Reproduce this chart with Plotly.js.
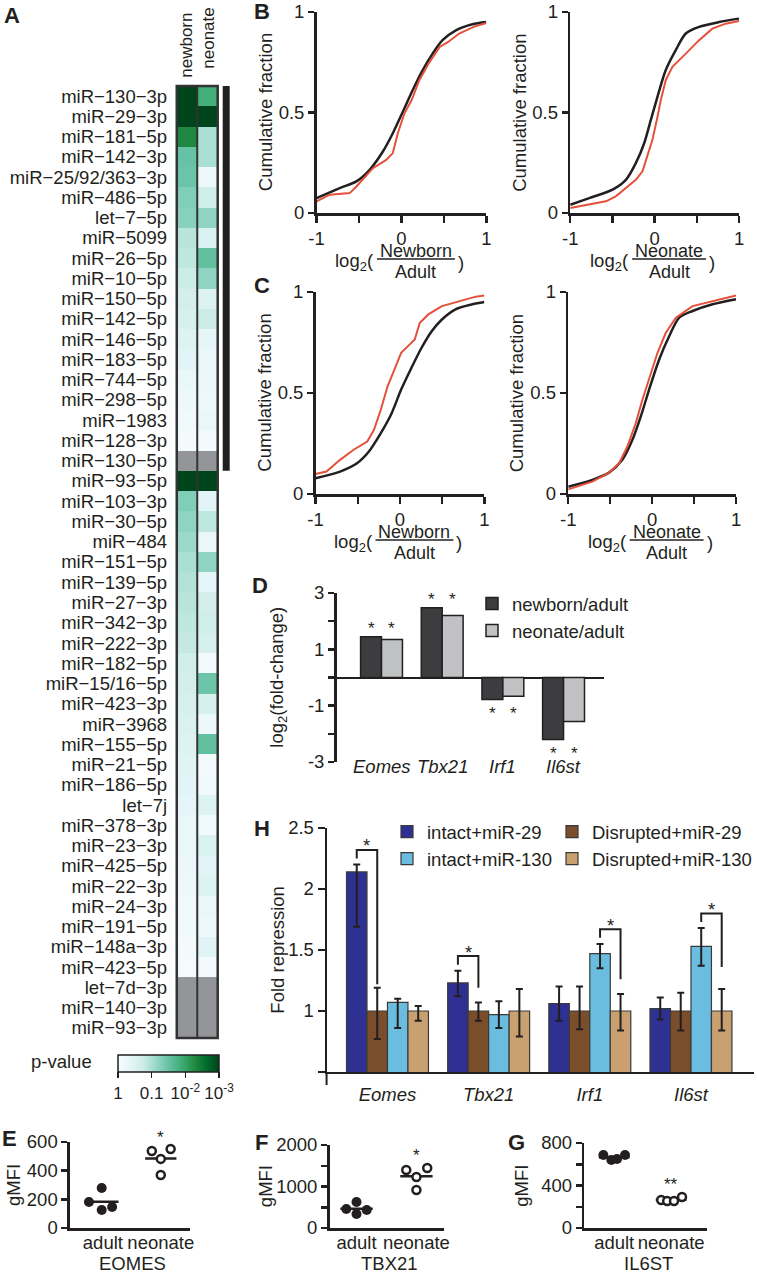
<!DOCTYPE html>
<html><head><meta charset="utf-8">
<script src="https://cdn.plot.ly/plotly-3.0.1.min.js"></script>
<style>html,body{margin:0;padding:0;background:#fff}#chart{width:757px;height:1273px}</style>
</head><body><div id="chart"></div>
<script>
// ---------------- DATA ----------------
// Panel A: heatmap of -log10(p) (null = not tested, drawn grey)
const mirnaLabels = ['miR−130−3p','miR−29−3p','miR−181−5p','miR−142−3p','miR−25/92/363−3p','miR−486−5p','let−7−5p','miR−5099','miR−26−5p','miR−10−5p','miR−150−5p','miR−142−5p','miR−146−5p','miR−183−5p','miR−744−5p','miR−298−5p','miR−1983','miR−128−3p','miR−130−5p','miR−93−5p','miR−103−3p','miR−30−5p','miR−484','miR−151−5p','miR−139−5p','miR−27−3p','miR−342−3p','miR−222−3p','miR−182−5p','miR−15/16−5p','miR−423−3p','miR−3968','miR−155−5p','miR−21−5p','miR−186−5p','let−7j','miR−378−3p','miR−23−3p','miR−425−5p','miR−22−3p','miR−24−3p','miR−191−5p','miR−148a−3p','miR−423−5p','let−7d−3p','miR−140−3p','miR−93−3p'];
const heatColumns = ['newborn','neonate'];
const newbornNegLog10P = [3,3,2.3,1.5,1.45,1.3,1.25,0.9,0.85,0.75,0.65,0.6,0.5,0.4,0.3,0.2,0.15,0.1,null,3,1.3,1.2,1.1,1.0,0.95,0.9,0.85,0.8,0.7,0.65,0.6,0.55,0.5,0.45,0.4,0.35,0.3,0.28,0.25,0.2,0.17,0.14,0.1,0.05,null,null,null];
const neonateNegLog10P = [1.85,3,1.0,1.0,0.2,0.7,1.2,0.55,1.55,1.2,0.5,0.75,0.35,0.3,0.25,0.2,0.3,0.1,null,3,0.4,0.85,0.3,1.2,0.35,0.65,0.7,0.6,0.1,1.45,0.6,0.2,1.55,0.1,0.15,0.5,0.15,0.55,0.4,0.5,0.3,0.2,0.45,0.1,null,null,null];
const pTickVals = [0,1,2,3];
const pTickText = ['1','0.1','10<sup>-2</sup>','10<sup>-3</sup>'];
const bracketRows = 19; // miRNAs marked by the black bar

// Panels B/C: cumulative fraction curves (black = all, red = targets)
const bNewbornAllX = [-1,-0.727,-0.531,-0.375,-0.219,-0.102,0.016,0.133,0.25,0.367,0.484,0.641,0.836,1.0];
const bNewbornAllY = [0.074,0.124,0.157,0.215,0.306,0.397,0.504,0.612,0.711,0.793,0.860,0.909,0.939,0.950];
const bNewbornTgtX = [-1,-0.844,-0.609,-0.531,-0.336,-0.180,-0.102,-0.043,0.035,0.12,0.21,0.32,0.45,0.55,0.68,0.85,1.0];
const bNewbornTgtY = [0.058,0.091,0.099,0.132,0.223,0.264,0.298,0.397,0.496,0.562,0.661,0.744,0.826,0.851,0.893,0.926,0.945];
const bNeonateAllX = [-1,-0.775,-0.499,-0.341,-0.223,-0.124,-0.045,0.034,0.132,0.250,0.369,0.527,0.763,1];
const bNeonateAllY = [0.041,0.074,0.116,0.165,0.248,0.347,0.463,0.579,0.711,0.810,0.893,0.926,0.950,0.967];
const bNeonateTgtX = [-1,-0.736,-0.578,-0.460,-0.341,-0.223,-0.144,-0.085,-0.026,0.034,0.073,0.132,0.211,0.369,0.527,0.684,0.842,1];
const bNeonateTgtY = [0.025,0.046,0.058,0.083,0.124,0.165,0.207,0.281,0.364,0.479,0.562,0.661,0.727,0.793,0.860,0.917,0.942,0.955];
const cNewbornAllX = [-1,-0.710,-0.509,-0.368,-0.227,-0.107,0.014,0.135,0.256,0.376,0.497,0.658,0.859,1];
const cNewbornAllY = [0.078,0.111,0.152,0.210,0.301,0.392,0.517,0.624,0.724,0.806,0.864,0.914,0.939,0.950];
const cNewbornTgtX = [-1,-0.871,-0.710,-0.549,-0.388,-0.308,-0.227,-0.147,-0.066,0.014,0.095,0.175,0.235,0.336,0.497,0.698,0.899,1];
const cNewbornTgtY = [0.099,0.111,0.169,0.219,0.260,0.318,0.417,0.533,0.616,0.699,0.732,0.765,0.848,0.889,0.930,0.955,0.977,0.983];
const cNeonateAllX = [-1,-0.713,-0.514,-0.355,-0.235,-0.135,-0.036,0.084,0.203,0.323,0.482,0.721,1];
const cNeonateAllY = [0.036,0.070,0.106,0.169,0.268,0.384,0.517,0.666,0.781,0.873,0.906,0.939,0.964];
const cNeonateTgtX = [-1,-0.713,-0.514,-0.394,-0.295,-0.195,-0.116,-0.016,0.064,0.163,0.283,0.482,0.721,1];
const cNeonateTgtY = [0.023,0.061,0.106,0.152,0.235,0.351,0.467,0.599,0.699,0.798,0.873,0.930,0.955,0.983];

// Panel D
const geneCats = ['Eomes','Tbx21','Irf1','Il6st'];
const dNewbornAdult = [1.45,2.48,-0.78,-2.2];
const dNeonateAdult = [1.35,2.2,-0.67,-1.56];
const dSig = ['*','*','*','*'];

// Panel H
const hIntact29 = [2.14,1.23,1.06,1.02];
const hIntact29Hi = [2.20,1.33,1.20,1.11];
const hIntact29Lo = [1.69,1.12,0.92,0.93];
const hDisrupted29 = [1,1,1,1];
const hDisrupted29Hi = [1.19,1.07,1.20,1.15];
const hDisrupted29Lo = [0.77,0.92,0.85,0.84];
const hIntact130 = [1.07,0.97,1.47,1.53];
const hIntact130Hi = [1.10,1.08,1.55,1.68];
const hIntact130Lo = [0.86,0.86,1.35,1.37];
const hDisrupted130 = [1,1,1,1];
const hDisrupted130Hi = [1.04,1.18,1.14,1.18];
const hDisrupted130Lo = [0.92,0.79,0.84,0.84];
const hSigLeftSeries = [0,0,2,2];      // compared intact series per gene
const hSigRightEnd = [1.22,1.19,1.26,1.36];

// Panels E/F/G (gMFI)
const groupLabels = ['adult','neonate'];
const eAdult = [279,181,126,147], eNeonate = [537,551,482,370];
const eAdultJitter = [-0.02,-0.24,-0.02,0.16], eNeonateJitter = [-0.155,0.17,0,0];
const fAdult = [458,627,337,434], fNeonate = [1398,1446,1229,916];
const fAdultJitter = [-0.17,0,0,0.17], fNeonateJitter = [-0.17,0.18,0,0];
const gAdult = [687,640,649,687], gNeonate = [263,254,254,292];
const gAdultJitter = [-0.19,-0.05,0.05,0.19], gNeonateJitter = [-0.175,-0.07,0.05,0.19];
const efgSig = ['*','*','**'];
const efgProteins = ['EOMES','TBX21','IL6ST'];

// ---------------- LAYOUT HELPERS ----------------
const W = 757, H = 1273;
const X = v => v / W, Y = v => 1 - v / H;
const xd = (l, r) => [X(l), X(r)];
const yd = (t, b) => [Y(b), Y(t)];
const FONT = 'Liberation Sans, Arial, Helvetica, sans-serif';
const FS = 18.5;
const INK = '#231f20';
const RED = '#e4503a';

const traces = [];
const annotations = [];
const shapes = [];
function ann(text, x, y, o) {
  annotations.push(Object.assign({text, x: X(x), y: Y(y), xref: 'paper', yref: 'paper', showarrow: false,
    xanchor: 'center', yanchor: 'middle', font: {size: FS, color: INK, family: FONT}}, o || {}));
}
const minorTicks = (vals, len, w) => ({tickmode: 'array', tickvals: vals, ticks: 'outside', ticklen: len, tickwidth: w, tickcolor: INK, showgrid: false});

// ---------------- A: heatmap ----------------
const zMain = mirnaLabels.map((_, i) => [newbornNegLog10P[i], neonateNegLog10P[i]]);
const zMissing = mirnaLabels.map((_, i) => [newbornNegLog10P[i] === null ? 1 : null, neonateNegLog10P[i] === null ? 1 : null]);
traces.push({type: 'heatmap', x: heatColumns, y: mirnaLabels, z: zMain, xaxis: 'x', yaxis: 'y', zmin: 0, zmax: 3,
  colorscale: [[0,'#f7fcfd'],[0.125,'#e5f5f9'],[0.25,'#ccece6'],[0.375,'#99d8c9'],[0.5,'#66c2a4'],[0.625,'#41ae76'],[0.75,'#238b45'],[0.875,'#006d2c'],[1,'#00441b']],
  showscale: true, hoverinfo: 'skip',
  colorbar: {orientation: 'h', x: X(118), xanchor: 'left', y: Y(1055), yanchor: 'top', len: 101, lenmode: 'pixels',
    thickness: 17, thicknessmode: 'pixels', xpad: 0, ypad: 0, outlinewidth: 1.5, outlinecolor: INK,
    tickvals: pTickVals, ticktext: pTickText, ticks: 'outside', ticklen: 6, tickwidth: 1.5, tickcolor: INK, tickangle: 0,
    tickfont: {size: 17, color: INK, family: FONT}}});
traces.push({type: 'heatmap', x: heatColumns, y: mirnaLabels, z: zMissing, xaxis: 'x', yaxis: 'y', zmin: 0, zmax: 1,
  colorscale: [[0,'#939598'],[1,'#939598']], showscale: false, hoverinfo: 'skip'});
shapes.push({type: 'rect', xref: 'paper', yref: 'paper', x0: X(177), x1: X(218), y0: Y(1038), y1: Y(86), line: {color: '#333', width: 2.5}});
shapes.push({type: 'line', xref: 'x', yref: 'paper', x0: 0.5, x1: 0.5, y0: Y(1038), y1: Y(86), line: {color: '#333', width: 2}});
shapes.push({type: 'rect', xref: 'paper', yref: 'y', x0: X(223), x1: X(230), y0: -0.5, y1: bracketRows - 0.5, fillcolor: INK, line: {width: 0}});
ann(heatColumns[0], 186, 45, {textangle: -90, font: {size: 17, color: INK, family: FONT}});
ann(heatColumns[1], 209, 38, {textangle: -90, font: {size: 17, color: INK, family: FONT}});
ann('p-value', 62, 1061);

// ---------------- B/C: CDFs ----------------
const cdfPanels = [
  {n: 2, l: 317, r: 487, t: 12, b: 213, all: [bNewbornAllX, bNewbornAllY], tgt: [bNewbornTgtX, bNewbornTgtY], num: 'Newborn'},
  {n: 3, l: 571, r: 740, t: 12, b: 213, all: [bNeonateAllX, bNeonateAllY], tgt: [bNeonateTgtX, bNeonateTgtY], num: 'Neonate'},
  {n: 4, l: 316, r: 485, t: 292, b: 494, all: [cNewbornAllX, cNewbornAllY], tgt: [cNewbornTgtX, cNewbornTgtY], num: 'Newborn'},
  {n: 5, l: 569, r: 737, t: 292, b: 494, all: [cNeonateAllX, cNeonateAllY], tgt: [cNeonateTgtX, cNeonateTgtY], num: 'Neonate'}
];
const axes = {};
cdfPanels.forEach(p => {
  const xa = 'x' + p.n, ya = 'y' + p.n;
  traces.push({type: 'scatter', mode: 'lines', x: p.all[0], y: p.all[1], xaxis: xa, yaxis: ya, showlegend: false, hoverinfo: 'skip',
    line: {color: INK, width: 2.5, shape: 'spline', smoothing: 0.8}, cliponaxis: false});
  traces.push({type: 'scatter', mode: 'lines', x: p.tgt[0], y: p.tgt[1], xaxis: xa, yaxis: ya, showlegend: false, hoverinfo: 'skip',
    line: {color: RED, width: 2}, cliponaxis: false});
  axes['xaxis' + p.n] = {domain: xd(p.l, p.r), range: [-1, 1], anchor: ya, showline: true, linecolor: INK, linewidth: 2.5,
    ticks: 'outside', ticklen: 7, tickwidth: 2.5, tickcolor: INK, tickmode: 'array', tickvals: [-1,0,1], ticktext: ['-1','0','1'],
    minor: minorTicks([-0.5, 0.5], 7, 2.5),
    showgrid: false, zeroline: false, tickfont: {size: FS, color: INK, family: FONT}};
  axes['yaxis' + p.n] = {domain: yd(p.t, p.b), range: [0, 1], anchor: xa, showline: true, linecolor: INK, linewidth: 2.5,
    ticks: 'outside', ticklen: 6, tickwidth: 2.5, tickcolor: INK, tickmode: 'array', tickvals: [0,0.5,1], ticktext: ['0','0.5','1'],
    showgrid: false, zeroline: false, tickfont: {size: FS, color: INK, family: FONT}};
  ann('Cumulative fraction', p.l - 51, (p.t + p.b) / 2, {textangle: -90});
  const cx = (p.l + p.r) / 2 + 14.5;
  const half = p.num === 'Newborn' ? 39 : 37;
  ann(p.num, cx, p.b + 38, {font: {size: 18, color: INK, family: FONT}});
  ann('Adult', cx, p.b + 59, {font: {size: 18, color: INK, family: FONT}});
  shapes.push({type: 'line', xref: 'paper', yref: 'paper', x0: X(cx - half), x1: X(cx + half), y0: Y(p.b + 46), y1: Y(p.b + 46), line: {color: INK, width: 1.5}});
  ann('log<sub>2</sub>(', cx - half - 1, p.b + 49, {xanchor: 'right'});
  ann(')', cx + half + 1, p.b + 49, {xanchor: 'left'});
});

// ---------------- D: bars ----------------
const dw = 0.345;
traces.push({type: 'bar', x: geneCats, y: dNewbornAdult, xaxis: 'x6', yaxis: 'y6', width: dw, offset: -dw, name: 'newborn/adult', legend: 'legend',
  marker: {color: '#3d3d3f', line: {color: INK, width: 1.5}}, hoverinfo: 'skip'});
traces.push({type: 'bar', x: geneCats, y: dNeonateAdult, xaxis: 'x6', yaxis: 'y6', width: dw, offset: 0, name: 'neonate/adult', legend: 'legend',
  marker: {color: '#c1c2c4', line: {color: INK, width: 1.5}}, hoverinfo: 'skip'});
axes.xaxis6 = {domain: xd(337, 605), range: [-0.741, 3.67], anchor: 'y6', type: 'category', categoryarray: geneCats, showline: false,
  showticklabels: false, ticks: '', showgrid: false, zeroline: false};
axes.yaxis6 = {domain: yd(593, 762), range: [-3, 3], anchor: 'x6', showline: true, linecolor: INK, linewidth: 2.5,
  ticks: 'outside', ticklen: 6, tickwidth: 2.5, tickcolor: INK, tickmode: 'array', tickvals: [-3,-1,1,3], ticktext: ['-3','-1','1','3'],
  minor: minorTicks([-2, 0, 2], 6, 2.5),
  showgrid: false, zeroline: true, zerolinecolor: INK, zerolinewidth: 2, tickfont: {size: FS, color: INK, family: FONT}};
geneCats.forEach((g, i) => {
  annotations.push({text: '<i>' + g + '</i>', x: i, xref: 'x6', y: Y(766), yref: 'paper', showarrow: false, font: {size: FS, color: INK, family: FONT}});
  const up = dNewbornAdult[i] > 0;
  const ext = up ? Math.max(dNewbornAdult[i], dNeonateAdult[i]) : Math.min(dNewbornAdult[i], dNeonateAdult[i]);
  [-dw / 2, dw / 2].forEach(off => {
    annotations.push({text: dSig[i], x: i + off, xref: 'x6', y: ext, yref: 'y6', showarrow: false, yshift: up ? 8 : -14,
      font: {size: 17, color: INK, family: FONT}});
  });
});
ann('log<sub>2</sub>(fold-change)', 278, 677, {textangle: -90});

// ---------------- H: bars with error bars ----------------
const hw = 0.2025;
const hSeries = [
  {name: 'intact+miR-29', v: hIntact29, hi: hIntact29Hi, lo: hIntact29Lo, color: '#2e3192', legend: 'legend2'},
  {name: 'Disrupted+miR-29', v: hDisrupted29, hi: hDisrupted29Hi, lo: hDisrupted29Lo, color: '#7a4e2b', legend: 'legend3'},
  {name: 'intact+miR-130', v: hIntact130, hi: hIntact130Hi, lo: hIntact130Lo, color: '#6bbde0', legend: 'legend2'},
  {name: 'Disrupted+miR-130', v: hDisrupted130, hi: hDisrupted130Hi, lo: hDisrupted130Lo, color: '#c9a06f', legend: 'legend3'}
];
hSeries.forEach((s, j) => {
  traces.push({type: 'bar', x: geneCats, y: s.v, xaxis: 'x7', yaxis: 'y7', width: hw, offset: -2 * hw + j * hw, name: s.name, legend: s.legend,
    marker: {color: s.color, line: {color: '#3a3a3a', width: 1.2}}, hoverinfo: 'skip',
    error_y: {type: 'data', symmetric: false, array: s.hi.map((h, i) => h - s.v[i]), arrayminus: s.lo.map((l, i) => s.v[i] - l),
      color: INK, thickness: 2, width: 3.5}});
});
axes.xaxis7 = {domain: xd(327, 755), range: [-0.602, 3.623], anchor: 'y7', type: 'category', categoryarray: geneCats, showline: true, linecolor: INK, linewidth: 2,
  ticks: 'outside', ticklen: 5, tickcolor: 'rgba(0,0,0,0)', tickvals: geneCats, ticktext: geneCats.map(g => '<i>' + g + '</i>'),
  showgrid: false, zeroline: false, tickfont: {size: FS, color: INK, family: FONT}};
axes.yaxis7 = {domain: yd(828, 1072), range: [0.5, 2.5], anchor: 'x7', showline: true, linecolor: INK, linewidth: 2,
  ticks: 'outside', ticklen: 7, tickwidth: 2, tickcolor: INK, tickmode: 'array', tickvals: [1,1.5,2,2.5], ticktext: ['1','1.5','2','2.5'],
  minor: minorTicks([0.5], 7, 2),
  showgrid: false, zeroline: false, tickfont: {size: FS, color: INK, family: FONT}};
shapes.push({type: 'line', xref: 'paper', yref: 'paper', x0: X(327), x1: X(327), y0: Y(1072), y1: Y(1085), line: {color: INK, width: 2}});
geneCats.forEach((g, i) => {
  const a = hSigLeftSeries[i], b = a + 1;
  const xa = i - 1.5 * hw + a * hw, xb = i - 1.5 * hw + b * hw;
  const top = hSeries[a].hi[i] + 0.12;
  shapes.push({type: 'path', xref: 'x7', yref: 'y7', path: `M ${xa} ${top - 0.07} L ${xa} ${top} L ${xb} ${top} L ${xb} ${hSigRightEnd[i]}`,
    line: {color: INK, width: 2}});
  annotations.push({text: '*', x: (xa + xb) / 2, xref: 'x7', y: top, yref: 'y7', showarrow: false, yshift: 4, font: {size: FS, color: INK, family: FONT}});
});
ann('Fold repression', 277, 950, {textangle: -90});

// ---------------- E/F/G ----------------
const dotPanels = [
  {n: 8, l: 70, r: 190, t: 1142, b: 1228, xr: [-0.569, 1.5], yr: [0, 600], tv: [0,200,400,600], mv: [],
   a: eAdult, aj: eAdultJitter, ne: eNeonate, nj: eNeonateJitter, tx: 13},
  {n: 9, l: 330, r: 445, t: 1145, b: 1228, xr: [-0.45, 1.467], yr: [0, 2000], tv: [0,1000,2000], mv: [500,1500],
   a: fAdult, aj: fAdultJitter, ne: fNeonate, nj: fNeonateJitter, tx: 266},
  {n: 10, l: 585, r: 708, t: 1143, b: 1228, xr: [-0.526, 1.63], yr: [0, 800], tv: [0,400,800], mv: [200,600],
   a: gAdult, aj: gAdultJitter, ne: gNeonate, nj: gNeonateJitter, tx: 522}
];
const mean = arr => arr.reduce((s, v) => s + v, 0) / arr.length;
dotPanels.forEach((p, k) => {
  const xa = 'x' + p.n, ya = 'y' + p.n;
  [[p.a, 0], [p.ne, 1]].forEach(([vals, gi]) => {
    const m = mean(vals);
    traces.push({type: 'scatter', mode: 'lines', x: [gi - 0.27, gi + 0.27], y: [m, m], xaxis: xa, yaxis: ya, showlegend: false, hoverinfo: 'skip',
      line: {color: INK, width: 2.5}, cliponaxis: false});
  });
  traces.push({type: 'scatter', mode: 'markers', x: p.aj.map(j => 0 + j), y: p.a, xaxis: xa, yaxis: ya, showlegend: false, hoverinfo: 'skip',
    marker: {size: 10, color: INK}, cliponaxis: false});
  traces.push({type: 'scatter', mode: 'markers', x: p.nj.map(j => 1 + j), y: p.ne, xaxis: xa, yaxis: ya, showlegend: false, hoverinfo: 'skip',
    marker: {size: 8, color: '#fff', line: {color: INK, width: 2.5}}, cliponaxis: false});
  axes['xaxis' + p.n] = {domain: xd(p.l, p.r), range: p.xr, anchor: ya, showline: true, linecolor: INK, linewidth: 2.5,
    ticks: '', tickmode: 'array', tickvals: [0, 1], ticktext: groupLabels, ticklabelstandoff: -4, showgrid: false, zeroline: false, tickfont: {size: FS, color: INK, family: FONT}};
  const ya_ = {domain: yd(p.t, p.b), range: p.yr, anchor: xa, showline: true, linecolor: INK, linewidth: 2.5,
    ticks: 'outside', ticklen: 6, tickwidth: 2.5, tickcolor: INK, tickmode: 'array', tickvals: p.tv, ticktext: p.tv.map(String),
    showgrid: false, zeroline: false, tickfont: {size: FS, color: INK, family: FONT}};
  if (p.mv.length) ya_.minor = minorTicks(p.mv, 6, 2.5);
  axes['yaxis' + p.n] = ya_;
  annotations.push({text: efgSig[k], x: 1, xref: xa, y: Math.max(...p.ne), yref: ya, showarrow: false, yshift: 12, font: {size: 17, color: INK, family: FONT}});
  ann('gMFI', p.tx, (p.t + p.b) / 2, {textangle: -90});
  ann(efgProteins[k], (p.l + p.r) / 2 + 3, 1263);
});

// ---------------- panel letters ----------------
[['A',12,16],['B',262,12],['C',262,285],['D',260,585],['H',262,828],['E',10,1138],['F',262,1142],['G',517,1142]].forEach(([t, x, y]) =>
  ann('<b>' + t + '</b>', x, y, {font: {size: 22, color: INK, family: FONT}}));

const legendBase = {bgcolor: 'rgba(0,0,0,0)', borderwidth: 0, font: {size: FS, color: INK, family: FONT}, xanchor: 'left', yanchor: 'top', tracegroupgap: 0, orientation: 'v'};
const layout = Object.assign({
  width: W, height: H, margin: {l: 0, r: 0, t: 0, b: 0}, paper_bgcolor: '#fff', plot_bgcolor: 'rgba(0,0,0,0)',
  font: {family: FONT, size: FS, color: INK}, showlegend: true, barmode: 'overlay',
  xaxis: {domain: xd(177, 218), anchor: 'y', showticklabels: false, ticks: '', showgrid: false, zeroline: false, showline: false},
  yaxis: {domain: yd(86, 1038), anchor: 'x', type: 'category', autorange: 'reversed', tickmode: 'array', tickvals: mirnaLabels, ticktext: mirnaLabels,
    ticks: 'outside', ticklen: 5, tickcolor: 'rgba(0,0,0,0)',
    showgrid: false, zeroline: false, showline: false, tickfont: {size: FS, color: INK, family: FONT}},
  legend: Object.assign({}, legendBase, {x: X(472), y: Y(585)}),
  legend2: Object.assign({}, legendBase, {x: X(387), y: Y(813)}),
  legend3: Object.assign({}, legendBase, {x: X(553), y: Y(813)}),
  annotations, shapes
}, axes);
traces.forEach(t => { if (!t.legend) t.showlegend = false; });
Plotly.newPlot('chart', traces, layout, {staticPlot: true, displayModeBar: false});
</script>
</body></html>
